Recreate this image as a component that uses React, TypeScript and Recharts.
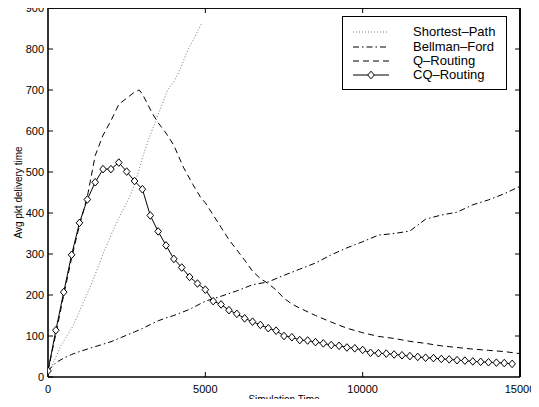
import React from 'react';
import { LineChart, Line, XAxis, YAxis, Legend, CartesianGrid } from 'recharts';

// sample times and delays
const spX = [0, 200, 400, 600, 800, 1000, 1200, 1400, 1600, 1800, 2000, 2200, 2400, 2600, 2800, 3000, 3200, 3400, 3600, 3800, 4000, 4200, 4400, 4600, 4800, 4900];
const spY = [10, 40, 75, 100, 125, 160, 195, 230, 270, 310, 345, 380, 410, 440, 480, 535, 580, 620, 660, 700, 720, 750, 790, 820, 850, 865];

const bfX = [0, 250, 500, 750, 1000, 1250, 1500, 1750, 2000, 2250, 2500, 2750, 3000, 3250, 3500, 3750, 4000, 4500, 5000, 5500, 6000, 6500, 7000, 7500, 8000, 8500, 9000, 9500, 10000, 10500, 11000, 11500, 12000, 12500, 13000, 13500, 14000, 14500, 15000];
const bfY = [15, 35, 46, 55, 62, 68, 74, 80, 86, 94, 102, 110, 118, 128, 137, 144, 150, 165, 185, 197, 210, 225, 232, 248, 263, 278, 298, 315, 330, 346, 350, 356, 385, 395, 402, 420, 432, 447, 465];

const qrX = [0, 250, 500, 750, 1000, 1250, 1500, 1750, 2000, 2250, 2500, 2750, 2900, 3000, 3150, 3300, 3500, 3750, 4000, 4300, 4600, 4850, 5000, 5250, 5500, 5750, 6000, 6250, 6500, 6750, 7000, 7250, 7500, 7750, 8000, 8500, 9000, 9500, 10000, 10500, 11000, 11500, 12000, 12500, 13000, 13500, 14000, 14500, 15000];
const qrY = [15, 105, 200, 290, 370, 440, 540, 590, 625, 665, 680, 695, 700, 690, 668, 645, 620, 595, 565, 512, 470, 438, 425, 395, 365, 335, 310, 285, 258, 240, 228, 212, 192, 178, 168, 150, 134, 119, 108, 99, 94, 87, 82, 76, 72, 68, 65, 62, 57];

const cqX = [0, 250, 500, 750, 1000, 1250, 1500, 1750, 2000, 2250, 2500, 2750, 3000, 3250, 3500, 3750, 4000, 4250, 4500, 4750, 5000, 5250, 5500, 5750, 6000, 6250, 6500, 6750, 7000, 7250, 7500, 7750, 8000, 8250, 8500, 8750, 9000, 9250, 9500, 9750, 10000, 10250, 10500, 10750, 11000, 11250, 11500, 11750, 12000, 12250, 12500, 12750, 13000, 13250, 13500, 13750, 14000, 14250, 14500, 14750];
const cqY = [15, 114, 207, 298, 376, 433, 475, 507, 507, 523, 501, 478, 458, 394, 355, 321, 288, 267, 244, 228, 213, 185, 177, 163, 154, 143, 135, 127, 119, 113, 100, 97, 90, 89, 85, 82, 78, 76, 72, 70, 66, 59, 58, 57, 55, 53, 51, 49, 47, 46, 44, 43, 41, 40, 38, 37, 36, 35, 34, 32];

const xTicks = [0, 5000, 10000, 15000];
const yTicks = [0, 100, 200, 300, 400, 500, 600, 700, 800, 900];
const seriesNames = ['Shortest\u2013Path', 'Bellman\u2013Ford', 'Q\u2013Routing', 'CQ\u2013Routing'];

const X_MAX = 15000;
const Y_MAX = 900;

const W = 539;
const H = 407;
const MARGIN = { top: 8, right: 19, bottom: 0, left: 8 };
const YAXIS_W = 40;
const XAXIS_H = 30;
// plot rect, derived from the layout above
const PLOT = {
  left: MARGIN.left + YAXIS_W,
  top: MARGIN.top,
  width: W - MARGIN.left - YAXIS_W - MARGIN.right,
  height: H - MARGIN.top - MARGIN.bottom - XAXIS_H,
};

const zip = (xs: number[], ys: number[]) => xs.map((x, i) => ({ x, y: ys[i] }));

const FONT = '"Liberation Sans", Arial, sans-serif';
const frameLine = { stroke: '#000', strokeWidth: 1.6 };
const tickLn = { stroke: '#000', strokeWidth: 1 };

const Diamond = (props: any) => {
  const { cx, cy } = props;
  if (cx == null || cy == null) return <g />;
  return (
    <path
      d={`M${cx},${cy - 3.8} L${cx + 3.3},${cy} L${cx},${cy + 3.8} L${cx - 3.3},${cy} Z`}
      fill="#fff"
      stroke="#000"
      strokeWidth={1}
    />
  );
};

const styles = [
  { stroke: '#777', dash: '1 2' },
  { stroke: '#000', dash: '6 3 1.5 3' },
  { stroke: '#000', dash: '6 4' },
  { stroke: '#000', dash: undefined },
];

const LegendBox = () => (
  <div
    style={{
      width: 165,
      height: 74,
      border: '1.5px solid #000',
      background: '#fff',
      fontFamily: FONT,
      fontSize: 13,
      paddingTop: 8,
      boxSizing: 'border-box',
    }}
  >
    {seriesNames.map((name, i) => (
      <div key={name} style={{ display: 'flex', alignItems: 'center', height: 14.4, lineHeight: '14px' }}>
        <svg width={70} height={14} style={{ flex: 'none' }}>
          <line x1={10} x2={46} y1={7} y2={7} stroke={styles[i].stroke} strokeDasharray={styles[i].dash} strokeWidth={1} />
          {i === 3 && <Diamond cx={28} cy={7} />}
        </svg>
        <span>{name}</span>
      </div>
    ))}
  </div>
);

// inward ticks on the top and right edges of the box
const BoxTicks = () => (
  <svg width={W} height={H} style={{ position: 'absolute', left: 0, top: 0, pointerEvents: 'none' }}>
    <polyline
      points={`${PLOT.left},${PLOT.top} ${PLOT.left + PLOT.width},${PLOT.top} ${PLOT.left + PLOT.width},${PLOT.top + PLOT.height}`}
      fill="none"
      stroke="#000"
      strokeWidth={1.6}
    />
    {xTicks.slice(1, -1).map((t) => {
      const x = PLOT.left + (t / X_MAX) * PLOT.width;
      return <line key={`t${t}`} x1={x} x2={x} y1={PLOT.top} y2={PLOT.top + 5} stroke="#000" />;
    })}
    {yTicks.slice(1, -1).map((t) => {
      const y = PLOT.top + PLOT.height - (t / Y_MAX) * PLOT.height;
      return <line key={`r${t}`} x1={PLOT.left + PLOT.width - 5} x2={PLOT.left + PLOT.width} y1={y} y2={y} stroke="#000" />;
    })}
  </svg>
);

export default function App() {
  return (
    <div style={{ position: 'relative', width: W, height: H, margin: -8, background: '#fff' }}>
      <LineChart width={W} height={H} margin={MARGIN}>
        <CartesianGrid
          horizontalPoints={[PLOT.top]}
          verticalPoints={[PLOT.left + PLOT.width]}
          stroke="#000"
          strokeWidth={1.6}
        />
        <XAxis
          dataKey="x"
          type="number"
          domain={[0, X_MAX]}
          ticks={xTicks}
          allowDataOverflow
          height={XAXIS_H}
          axisLine={frameLine}
          tickLine={tickLn}
          tickSize={-5}
          tickMargin={13}
          tick={{ fill: '#000', fontSize: 11, fontFamily: FONT }}
          label={{ value: 'Simulation Time', position: 'insideBottom', offset: 4, fill: '#000', fontSize: 10, fontFamily: FONT }}
        />
        <YAxis
          type="number"
          domain={[0, Y_MAX]}
          ticks={yTicks}
          allowDataOverflow
          width={YAXIS_W}
          axisLine={frameLine}
          tickLine={tickLn}
          tickSize={-5}
          tickMargin={9}
          tick={{ fill: '#000', fontSize: 11, fontFamily: FONT }}
          label={{ value: 'Avg pkt delivery time', angle: -90, position: 'insideLeft', offset: 10, fill: '#000', fontSize: 10, fontFamily: FONT, style: { textAnchor: 'middle' } }}
        />
        <Line data={zip(spX, spY)} dataKey="y" name={seriesNames[0]} stroke={styles[0].stroke} strokeDasharray={styles[0].dash} strokeWidth={1} dot={false} isAnimationActive={false} />
        <Line data={zip(bfX, bfY)} dataKey="y" name={seriesNames[1]} stroke={styles[1].stroke} strokeDasharray={styles[1].dash} strokeWidth={1} dot={false} isAnimationActive={false} />
        <Line data={zip(qrX, qrY)} dataKey="y" name={seriesNames[2]} stroke={styles[2].stroke} strokeDasharray={styles[2].dash} strokeWidth={1} dot={false} isAnimationActive={false} />
        <Line data={zip(cqX, cqY)} dataKey="y" name={seriesNames[3]} stroke="#000" strokeWidth={1} dot={<Diamond />} isAnimationActive={false} />
        <Legend
          layout="vertical"
          align="center"
          verticalAlign="middle"
          content={() => <LegendBox />}
          wrapperStyle={{ position: 'absolute', left: 342, top: 16, width: 165 }}
        />
      </LineChart>
      <BoxTicks />
    </div>
  );
}
